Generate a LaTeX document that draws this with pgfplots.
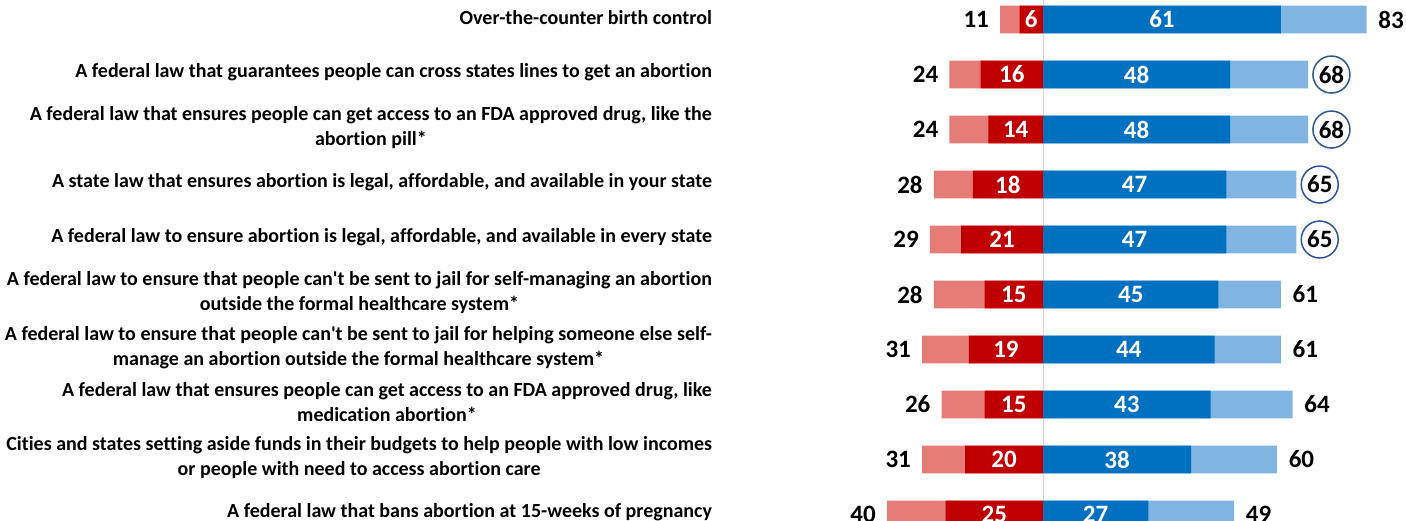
\documentclass[border=0pt]{standalone}
\usepackage{fontspec}
\setmainfont{Carlito}[Ligatures=NoCommon]
\usepackage{pgfplots}
\usepackage{pgfplotstable}
\pgfplotsset{compat=1.18}
\definecolor{lred}{HTML}{E67C77}
\definecolor{dred}{HTML}{C00000}
\definecolor{dblue}{HTML}{0070C0}
\definecolor{lblue}{HTML}{7FB5E0}
\definecolor{ringc}{HTML}{2F5597}

% row, total oppose, strongly oppose, strongly favor, total favor
\pgfplotstableread{
row totopp stropp strfav totfav ring gap
1  11 6  61 83 0 2.6
2  24 16 48 68 1 2
3  24 14 48 68 1 2
4  28 18 47 65 1 2
5  29 21 47 65 1 2
6  28 15 45 61 0 2.6
7  31 19 44 61 0 2.6
8  26 15 43 64 0 2.6
9  31 20 38 60 0 2.6
10 40 25 27 49 0 2.6
}\support

\begin{document}
\begin{tikzpicture}
\begin{axis}[
  width=703pt, height=260pt, scale only axis,
  xmin=-267.44, xmax=93.08, ymin=0.645, ymax=10.1, y dir=reverse,
  axis line style={draw=none}, major tick length=0pt,
  xtick={0}, xticklabels={}, xmajorgrids,
  major grid style={draw=black!15, line width=0.5pt},
  ytick={1,...,10},
  yticklabels={
    {Over-the-counter birth control},
    {A federal law that guarantees people can cross states lines to get an abortion},
    {A federal law that ensures people can get access to an FDA approved drug, like the\\abortion pill*},
    {A state law that ensures abortion is legal, affordable, and available in your state},
    {A federal law to ensure abortion is legal, affordable, and available in every state},
    {A federal law to ensure that people can\textquotesingle t be sent to jail for self-managing an abortion\\outside the formal healthcare system*},
    {A federal law to ensure that people can\textquotesingle t be sent to jail for helping someone else self-\\manage an abortion outside the formal healthcare system*},
    {A federal law that ensures people can get access to an FDA approved drug, like\\medication abortion*},
    {Cities and states setting aside funds in their budgets to help people with low incomes\\or people with need to access abortion care},
    {A federal law that bans abortion at 15-weeks of pregnancy}},
  yticklabel style={anchor=east, xshift=359.5pt, yshift=1pt, align=center,
    font=\bfseries\fontsize{10}{12.5}\selectfont},
  clip=false,
]
% total favor (light blue) with total label, circled where marked
\addplot[xbar, bar shift=0pt, bar width=13.8pt, fill=lblue, draw=none,
  point meta=explicit symbolic, nodes near coords,
  visualization depends on={\thisrow{ring} \as \ringop},
  visualization depends on={\thisrow{gap} \as \gap},
  nodes near coords style={circle, draw=ringc, draw opacity=\ringop,
    line width=0.75pt, minimum size=18.5pt, inner sep=0pt, anchor=west,
    xshift=\gap pt, text=black, font=\bfseries\fontsize{12.5}{14}\selectfont}]
  table[x=totfav, y=row, meta=totfav]{\support};
% strongly favor
\addplot[xbar, bar shift=0pt, bar width=13.8pt, fill=dblue, draw=none]
  table[x=strfav, y=row]{\support};
% total oppose (light red) with total label
\addplot[xbar, bar shift=0pt, bar width=13.8pt, fill=lred, draw=none,
  point meta=explicit symbolic, nodes near coords,
  nodes near coords style={anchor=east, inner sep=0pt, xshift=-5.4pt,
    text=black, font=\bfseries\fontsize{12.5}{14}\selectfont}]
  table[x expr=-\thisrow{totopp}, y=row, meta=totopp]{\support};
% strongly oppose
\addplot[xbar, bar shift=0pt, bar width=13.8pt, fill=dred, draw=none]
  table[x expr=-\thisrow{stropp}, y=row]{\support};
% labels inside the dark bars
\addplot[draw=none, mark=none, point meta=explicit symbolic, nodes near coords,
  nodes near coords style={anchor=center, inner sep=0pt, text=white,
    font=\bfseries\fontsize{12.5}{14}\selectfont}]
  table[x expr=\thisrow{strfav}/2, y=row, meta=strfav]{\support};
\addplot[draw=none, mark=none, point meta=explicit symbolic, nodes near coords,
  nodes near coords style={anchor=center, inner sep=0pt, text=white,
    font=\bfseries\fontsize{12.5}{14}\selectfont}]
  table[x expr=-\thisrow{stropp}/2, y=row, meta=stropp]{\support};
\end{axis}
\pgfresetboundingbox
\path (current axis.south west) rectangle (current axis.north east);
\end{tikzpicture}
\end{document}
